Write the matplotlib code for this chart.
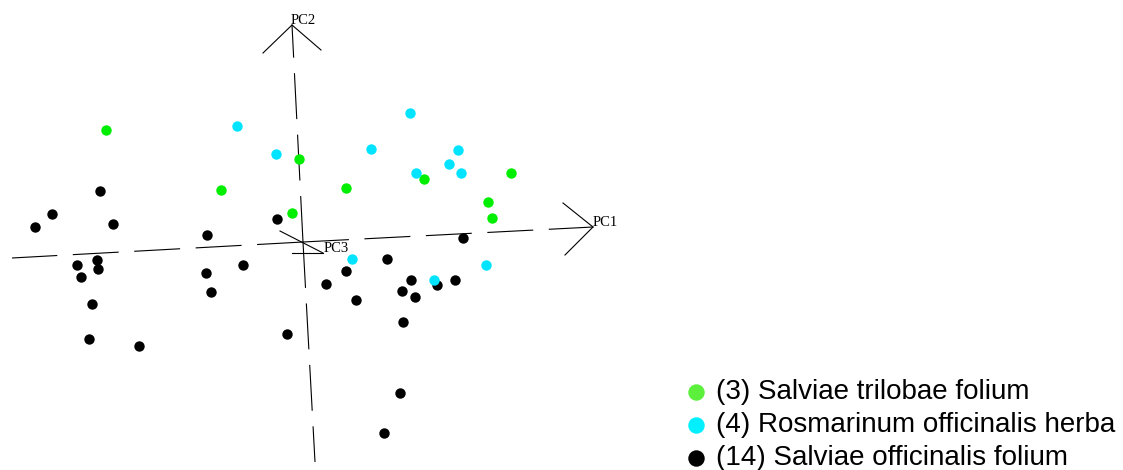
import matplotlib
matplotlib.use("Agg")
import matplotlib.pyplot as plt

plt.rcParams["lines.scale_dashes"] = False

# Projected scores (screen coordinates of the 3-D PCA view)
trilobae_x = [106, 221, 299, 292, 346, 424, 511, 488, 492]
trilobae_y = [130, 190, 159, 213, 188, 179, 173, 202, 218]

rosmarinus_x = [237, 276, 410, 371, 458, 449, 416, 461, 352, 486, 434]
rosmarinus_y = [126, 154, 113, 149, 150, 164, 173, 173, 259, 265, 280]

officinalis_x = [100, 52, 35, 113, 277, 207, 97, 77, 98, 81, 206, 243, 211, 92,
                 89, 139, 287, 463, 387, 346, 326, 411, 455, 437, 402, 415, 356,
                 403, 400, 384]
officinalis_y = [191, 214, 227, 224, 219, 235, 260, 265, 269, 277, 273, 265, 292,
                 304, 339, 346, 334, 238, 259, 271, 284, 280, 280, 285, 291, 297,
                 300, 322, 393, 433]

legend_labels = ["(3) Salviae trilobae folium",
                 "(4) Rosmarinum officinalis herba",
                 "(14) Salviae officinalis folium"]

# Axis geometry of the projected coordinate system
origin = (303, 242)
pc1_tip, pc1_neg = (593, 227), (12, 258)
pc2_tip, pc2_neg = (292, 25), (315, 462)
pc3_tip, pc3_neg = (323, 253), (280, 231)

fig = plt.figure(figsize=(11.23, 4.70), dpi=100)
ax = fig.add_axes([0, 0, 1, 1])
ax.set_xlim(0, 1123)
ax.set_ylim(470, 0)
ax.axis("off")

dash = (0, (33.1, 11.2))
for end in (pc1_tip, pc1_neg, pc2_tip, pc2_neg):
    ax.plot([origin[0], end[0]], [origin[1], end[1]], color="black",
            lw=0.8, linestyle=dash, solid_capstyle="butt", dash_capstyle="butt")

# PC3 is short and solid
ax.plot([pc3_neg[0], pc3_tip[0]], [pc3_neg[1], pc3_tip[1]], color="black", lw=0.8)
ax.plot([292, pc3_tip[0]], [253, pc3_tip[1]], color="black", lw=0.8)

# Arrow heads
for tip, wings in ((pc1_tip, [(563, 203), (565, 255)]),
                   (pc2_tip, [(263, 53), (321, 50)])):
    for w in wings:
        ax.plot([tip[0], w[0]], [tip[1], w[1]], color="black", lw=0.8)

serif = dict(family="Liberation Serif", fontsize=10.5, color="black")
ax.text(593, 223, "PC1", ha="left", va="center", **serif)
ax.text(291, 20, "PC2", ha="left", va="center", **serif)
ax.text(324, 248, "PC3", ha="left", va="center", **serif)

ax.scatter(officinalis_x, officinalis_y, s=56, color="black", linewidths=0, zorder=3)
ax.scatter(trilobae_x, trilobae_y, s=56, color="#00ee00", linewidths=0, zorder=3)
ax.scatter(rosmarinus_x, rosmarinus_y, s=56, color="#00e4ff", linewidths=0, zorder=3)

# Legend drawn as markers and text
legend_colors = ["#5cf03c", "#00f0ff", "black"]
legend_rows = [392, 425, 458]
for lbl, col, yy in zip(legend_labels, legend_colors, legend_rows):
    ax.scatter([696], [yy], s=140, color=col, linewidths=0, zorder=3)
    ax.text(716, yy, lbl, ha="left", va="center", family="Liberation Sans",
            fontsize=20, color="black")

fig.savefig("out.png", dpi=100)
